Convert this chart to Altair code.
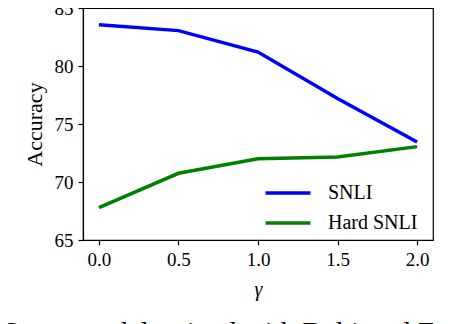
import altair as alt
import pandas as pd

gammas = [0.0, 0.5, 1.0, 1.5, 2.0]
snli = [83.55, 83.05, 81.2, 77.2, 73.45]
hard_snli = [67.8, 70.75, 72.0, 72.15, 73.05]
series = ["SNLI", "Hard SNLI"]
colors = ["#0000ff", "#008000"]
x_ticks = [0.0, 0.5, 1.0, 1.5, 2.0]
y_ticks = [65, 70, 75, 80, 85]
caption = "Some model trained with Debiased Focal Loss"

rows = []
for g, a, b in zip(gammas, snli, hard_snli):
    rows.append({"gamma": g, "acc": a, "series": series[0]})
    rows.append({"gamma": g, "acc": b, "series": series[1]})
df = pd.DataFrame(rows)

FONT = "Liberation Serif"

chart = alt.Chart(df).mark_line(strokeWidth=3.5, strokeCap="butt").encode(
    x=alt.X("gamma:Q",
            scale=alt.Scale(domain=[-0.1, 2.1], nice=False, zero=False),
            axis=alt.Axis(values=x_ticks, format=".1f", title="γ",
                          titleFontStyle="italic", titleFontWeight="normal",
                          titleFontSize=20, titlePadding=10)),
    y=alt.Y("acc:Q",
            scale=alt.Scale(domain=[65, 85], nice=False, zero=False),
            axis=alt.Axis(values=y_ticks, title="Accuracy",
                          titleFontWeight="normal", titleFontSize=22,
                          titlePadding=8)),
    color=alt.Color("series:N",
                    scale=alt.Scale(domain=series, range=colors),
                    legend=alt.Legend(title=None, orient="none",
                                      legendX=192, legendY=172,
                                      symbolType="M-2,0H2",
                                      symbolSize=506,
                                      symbolStrokeWidth=3.5,
                                      labelFont=FONT, labelFontSize=20,
                                      labelOffset=27, rowPadding=7)),
).properties(
    width=350, height=232,
    autosize=alt.AutoSizeParams(type="none"),
    padding={"left": 75, "top": 0, "right": 20, "bottom": 100},
    title=alt.TitleParams(caption, orient="bottom", anchor="start",
                          frame="bounds", font=FONT, fontSize=29,
                          fontWeight="normal", color="black",
                          dx=-20, offset=20),
).configure_view(
    stroke="black", strokeWidth=1.2
).configure_axis(
    grid=False, domainColor="black", domainWidth=1.2,
    tickColor="black", tickSize=5, tickWidth=1.2,
    labelFont=FONT, labelFontSize=19, labelColor="black",
    titleFont=FONT, titleColor="black", labelPadding=5,
)

chart.save("out.html", embed_options={"renderer": "svg", "actions": False})
